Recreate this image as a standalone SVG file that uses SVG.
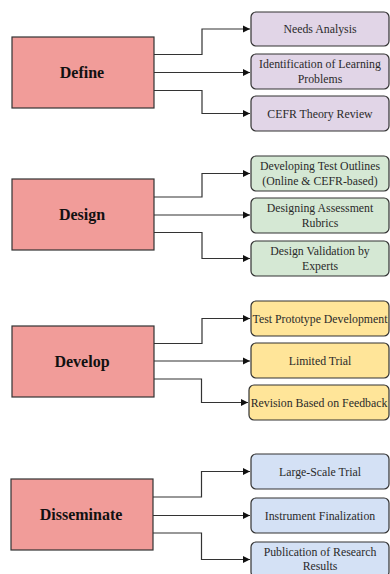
<svg xmlns="http://www.w3.org/2000/svg" width="390" height="574" viewBox="0 0 390 574">
<style>
.main{fill:#F19C99;stroke:#333333;stroke-width:1.2}
.sub{stroke:#333333;stroke-width:1.2}
.p{fill:#E1D5E7}.g{fill:#D5E8D4}.y{fill:#FFE599}.b{fill:#D4E1F5}
.mt{font-family:"Liberation Serif",serif;font-weight:bold;font-size:16px;fill:#111;text-anchor:middle}
.st{font-family:"Liberation Serif",serif;font-size:11.8px;fill:#2a2a2a;text-anchor:middle}
.c{fill:none;stroke:#333333;stroke-width:1.2;marker-end:url(#ar)}
</style>
<defs>
<marker id="ar" markerWidth="8" markerHeight="8" refX="7" refY="4" orient="auto" markerUnits="userSpaceOnUse">
<path d="M0,0.5 L7,4 L0,7.5 Z" fill="#111"/>
</marker>
</defs>
<rect width="390" height="574" fill="#ffffff"/>
<g id="connectors">
<path class="c" d="M154,54.5 H202 V29 H250"/>
<path class="c" d="M154,72.5 H250"/>
<path class="c" d="M154,90.5 H202 V113.5 H250"/>
<path class="c" d="M154,197 H202 V173.5 H250"/>
<path class="c" d="M154,215 H250"/>
<path class="c" d="M154,232.5 H202 V258.5 H250"/>
<path class="c" d="M154,343.5 H202 V318.5 H250"/>
<path class="c" d="M154,361 H250"/>
<path class="c" d="M154,379 H201.5 V402.5 H248"/>
<path class="c" d="M153,497 H201.5 V471.5 H250"/>
<path class="c" d="M153,515.5 H250"/>
<path class="c" d="M153,533 H201.5 V559.5 H250"/>
</g>
<g id="define"><rect class="main" x="12" y="37" width="142" height="71"/><text class="mt" x="82" y="78">Define</text></g>
<g id="needs"><rect class="sub p" x="251" y="12" width="138" height="34" rx="5"/><text class="st" x="320" y="33">Needs Analysis</text></g>
<g id="ident"><rect class="sub p" x="251" y="54" width="138" height="35" rx="5"/><text class="st" x="320" y="68">Identification of Learning</text><text class="st" x="320" y="82.5">Problems</text></g>
<g id="cefr"><rect class="sub p" x="251" y="96" width="138" height="35" rx="5"/><text class="st" x="320" y="117.5">CEFR Theory Review</text></g>
<g id="design"><rect class="main" x="12" y="179" width="142" height="71"/><text class="mt" x="82" y="220">Design</text></g>
<g id="outlines"><rect class="sub g" x="251" y="156" width="138" height="35" rx="5"/><text class="st" x="320" y="170">Developing Test Outlines</text><text class="st" x="320" y="184.5">(Online &amp; CEFR-based)</text></g>
<g id="rubrics"><rect class="sub g" x="251" y="198" width="138" height="35" rx="5"/><text class="st" x="320" y="212">Designing Assessment</text><text class="st" x="320" y="226.5">Rubrics</text></g>
<g id="validation"><rect class="sub g" x="251" y="241" width="138" height="35" rx="5"/><text class="st" x="320" y="255">Design Validation by</text><text class="st" x="320" y="269.5">Experts</text></g>
<g id="develop"><rect class="main" x="12" y="326" width="142" height="71"/><text class="mt" x="82" y="367">Develop</text></g>
<g id="prototype"><rect class="sub y" x="251" y="301" width="138" height="35" rx="5"/><text class="st" x="320" y="322.5">Test Prototype Development</text></g>
<g id="limited"><rect class="sub y" x="251" y="343" width="138" height="35" rx="5"/><text class="st" x="320" y="364.5">Limited Trial</text></g>
<g id="revision"><rect class="sub y" x="249" y="385" width="140" height="35" rx="5"/><text class="st" x="319" y="406.5">Revision Based on Feedback</text></g>
<g id="disseminate"><rect class="main" x="11" y="479" width="142" height="71"/><text class="mt" x="81" y="520">Disseminate</text></g>
<g id="largescale"><rect class="sub b" x="251" y="454" width="138" height="35" rx="5"/><text class="st" x="320" y="475.5">Large-Scale Trial</text></g>
<g id="final"><rect class="sub b" x="251" y="498" width="138" height="35" rx="5"/><text class="st" x="320" y="519.5">Instrument Finalization</text></g>
<g id="publication"><rect class="sub b" x="251" y="542" width="138" height="35" rx="5"/><text class="st" x="320" y="555.5">Publication of Research</text><text class="st" x="320" y="570">Results</text></g>
</svg>
